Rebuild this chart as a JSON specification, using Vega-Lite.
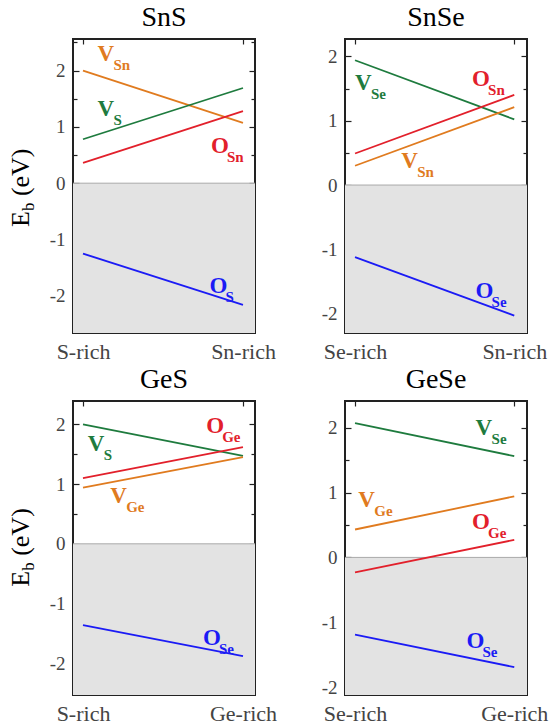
{
  "$schema": "https://vega.github.io/schema/vega-lite/v6.json",
  "autosize": {"type": "pad"},
  "padding": {"left": 6, "top": 3, "right": 0, "bottom": 0},
  "background": "white",
  "config": {
    "font": "Liberation Serif",
    "view": {"stroke": "#222", "strokeWidth": 2},
    "axis": {"domain": false, "grid": false, "tickColor": "#222", "tickWidth": 1.2, "labelFont": "Liberation Serif", "labelColor": "#444", "title": null},
    "title": {"font": "Liberation Serif", "fontSize": 28, "fontWeight": "normal", "color": "black", "offset": 6},
    "line": {"strokeWidth": 1.8}
  },
  "datasets": {
    "lines": [
      {"panel": "SnS", "defect": "V_Sn", "x": 0, "y": 2.0}, {"panel": "SnS", "defect": "V_Sn", "x": 1, "y": 1.07},
      {"panel": "SnS", "defect": "V_S", "x": 0, "y": 0.78}, {"panel": "SnS", "defect": "V_S", "x": 1, "y": 1.69},
      {"panel": "SnS", "defect": "O_Sn", "x": 0, "y": 0.36}, {"panel": "SnS", "defect": "O_Sn", "x": 1, "y": 1.28},
      {"panel": "SnS", "defect": "O_S", "x": 0, "y": -1.25}, {"panel": "SnS", "defect": "O_S", "x": 1, "y": -2.16},
      {"panel": "SnSe", "defect": "V_Se", "x": 0, "y": 1.94}, {"panel": "SnSe", "defect": "V_Se", "x": 1, "y": 1.02},
      {"panel": "SnSe", "defect": "O_Sn", "x": 0, "y": 0.49}, {"panel": "SnSe", "defect": "O_Sn", "x": 1, "y": 1.4},
      {"panel": "SnSe", "defect": "V_Sn", "x": 0, "y": 0.3}, {"panel": "SnSe", "defect": "V_Sn", "x": 1, "y": 1.21},
      {"panel": "SnSe", "defect": "O_Se", "x": 0, "y": -1.12}, {"panel": "SnSe", "defect": "O_Se", "x": 1, "y": -2.03},
      {"panel": "GeS", "defect": "V_S", "x": 0, "y": 2.0}, {"panel": "GeS", "defect": "V_S", "x": 1, "y": 1.47},
      {"panel": "GeS", "defect": "O_Ge", "x": 0, "y": 1.1}, {"panel": "GeS", "defect": "O_Ge", "x": 1, "y": 1.62},
      {"panel": "GeS", "defect": "V_Ge", "x": 0, "y": 0.94}, {"panel": "GeS", "defect": "V_Ge", "x": 1, "y": 1.45},
      {"panel": "GeS", "defect": "O_Se", "x": 0, "y": -1.36}, {"panel": "GeS", "defect": "O_Se", "x": 1, "y": -1.88},
      {"panel": "GeSe", "defect": "V_Se", "x": 0, "y": 2.07}, {"panel": "GeSe", "defect": "V_Se", "x": 1, "y": 1.56},
      {"panel": "GeSe", "defect": "V_Ge", "x": 0, "y": 0.43}, {"panel": "GeSe", "defect": "V_Ge", "x": 1, "y": 0.94},
      {"panel": "GeSe", "defect": "O_Ge", "x": 0, "y": -0.23}, {"panel": "GeSe", "defect": "O_Ge", "x": 1, "y": 0.27},
      {"panel": "GeSe", "defect": "O_Se", "x": 0, "y": -1.19}, {"panel": "GeSe", "defect": "O_Se", "x": 1, "y": -1.69}
    ],
    "labels": [
      {"panel": "SnS", "defect": "V_Sn", "main": "V", "sub": "Sn", "lx": 0.09, "ly": 2.17},
      {"panel": "SnS", "defect": "V_S", "main": "V", "sub": "S", "lx": 0.09, "ly": 1.19},
      {"panel": "SnS", "defect": "O_Sn", "main": "O", "sub": "Sn", "lx": 0.8, "ly": 0.54},
      {"panel": "SnS", "defect": "O_S", "main": "O", "sub": "S", "lx": 0.79, "ly": -1.95},
      {"panel": "SnSe", "defect": "V_Se", "main": "V", "sub": "Se", "lx": 0.0, "ly": 1.47},
      {"panel": "SnSe", "defect": "O_Sn", "main": "O", "sub": "Sn", "lx": 0.735, "ly": 1.54},
      {"panel": "SnSe", "defect": "V_Sn", "main": "V", "sub": "Sn", "lx": 0.29, "ly": 0.27},
      {"panel": "SnSe", "defect": "O_Se", "main": "O", "sub": "Se", "lx": 0.757, "ly": -1.75},
      {"panel": "GeS", "defect": "O_Ge", "main": "O", "sub": "Ge", "lx": 0.77, "ly": 1.86},
      {"panel": "GeS", "defect": "V_S", "main": "V", "sub": "S", "lx": 0.03, "ly": 1.56},
      {"panel": "GeS", "defect": "V_Ge", "main": "V", "sub": "Ge", "lx": 0.17, "ly": 0.69},
      {"panel": "GeS", "defect": "O_Se", "main": "O", "sub": "Se", "lx": 0.75, "ly": -1.69},
      {"panel": "GeSe", "defect": "V_Se", "main": "V", "sub": "Se", "lx": 0.757, "ly": 1.88},
      {"panel": "GeSe", "defect": "V_Ge", "main": "V", "sub": "Ge", "lx": 0.02, "ly": 0.77},
      {"panel": "GeSe", "defect": "O_Ge", "main": "O", "sub": "Ge", "lx": 0.735, "ly": 0.44},
      {"panel": "GeSe", "defect": "O_Se", "main": "O", "sub": "Se", "lx": 0.7, "ly": -1.39}
    ]
  },
  "columns": 2,
  "spacing": {"row": 68, "column": 90},
  "bounds": "flush",
  "concat": [
        {
          "width": 182, "height": 294, "title": {"text": "SnS", "font": "Liberation Serif", "fontSize": 28, "fontWeight": "normal", "color": "black", "offset": 6},
          "layer": [
            {"data": {"values": [{}]}, "mark": {"type": "rect", "color": "#e3e3e3"},
             "encoding": {
               "x": {"datum": -0.0625, "type": "quantitative", "scale": {"domain": [-0.0625, 1.075], "nice": false, "zero": false}, "axis": {"orient": "top", "values": [0, 1], "labels": false, "tickSize": -5}},
               "x2": {"datum": 1.075},
               "y": {"datum": -2.66, "type": "quantitative", "scale": {"domain": [-2.66, 2.56], "nice": false, "zero": false}, "axis": {"orient": "right", "values": [-2.5, -2, -1.5, -1, -0.5, 0, 0.5, 1, 1.5, 2, 2.5], "labels": false, "tickSize": {"condition": {"test": "datum.value % 1 === 0", "value": -6}, "value": -4}}},
               "y2": {"datum": 0}}},
            {"data": {"values": [{}]}, "mark": {"type": "rule", "color": "#aaaaaa", "strokeWidth": 1}, "encoding": {"y": {"datum": 0, "type": "quantitative", "axis": null}}},
            {"data": {"name": "lines"}, "transform": [{"filter": "datum.panel === 'SnS'"}], "mark": {"type": "line", "strokeWidth": 1.8},
             "encoding": {
               "x": {"field": "x", "type": "quantitative", "axis": {"orient": "bottom", "values": [0, 1], "labelExpr": "datum.value === 0 ? 'S-rich' : 'Sn-rich'", "labelFont": "Liberation Serif", "labelFontSize": 22, "labelPadding": 13, "tickSize": -5}},
               "y": {"field": "y", "type": "quantitative", "axis": {"orient": "left", "values": [-2.5, -2, -1.5, -1, -0.5, 0, 0.5, 1, 1.5, 2, 2.5], "labelExpr": "datum.value % 1 === 0 ? '' + datum.value : ''", "labelFont": "Liberation Serif", "labelFontSize": 19, "labelPadding": 14, "tickSize": {"condition": {"test": "datum.value % 1 === 0", "value": -6}, "value": -4}}},
               "color": {"field": "defect", "type": "nominal", "legend": null, "scale": {"domain": ["V_S", "V_Se", "V_Sn", "V_Ge", "O_Sn", "O_Ge", "O_S", "O_Se"], "range": ["#1e7b3e", "#1e7b3e", "#e07b1f", "#e07b1f", "#e2202b", "#e2202b", "#1b1bf5", "#1b1bf5"]}}}},
            {"data": {"name": "labels"}, "transform": [{"filter": "datum.panel === 'SnS'"}], "mark": {"type": "text", "align": "left", "baseline": "alphabetic", "font": "Liberation Serif", "fontWeight": "bold", "fontSize": 23},
             "encoding": {"x": {"field": "lx", "type": "quantitative", "axis": null}, "y": {"field": "ly", "type": "quantitative", "axis": null}, "text": {"field": "main"}, "color": {"field": "defect", "type": "nominal", "legend": null}}},
            {"data": {"name": "labels"}, "transform": [{"filter": "datum.panel === 'SnS'"}], "mark": {"type": "text", "align": "left", "baseline": "alphabetic", "font": "Liberation Serif", "fontWeight": "bold", "fontSize": 15, "dx": 16, "dy": 9},
             "encoding": {"x": {"field": "lx", "type": "quantitative", "axis": null}, "y": {"field": "ly", "type": "quantitative", "axis": null}, "text": {"field": "sub"}, "color": {"field": "defect", "type": "nominal", "legend": null}}},
            {"data": {"values": [{"t": "E"}]}, "mark": {"type": "text", "angle": 270, "align": "left", "baseline": "alphabetic", "font": "Liberation Serif", "fontSize": 26, "color": "black"},
             "encoding": {"x": {"datum": -0.34, "type": "quantitative", "axis": null}, "y": {"datum": -0.78, "type": "quantitative", "axis": null}, "text": {"field": "t"}}},
            {"data": {"values": [{"t": "b"}]}, "mark": {"type": "text", "angle": 270, "align": "left", "baseline": "alphabetic", "font": "Liberation Serif", "fontSize": 17, "color": "black", "dx": 16, "dy": 5},
             "encoding": {"x": {"datum": -0.34, "type": "quantitative", "axis": null}, "y": {"datum": -0.78, "type": "quantitative", "axis": null}, "text": {"field": "t"}}},
            {"data": {"values": [{"t": "(eV)"}]}, "mark": {"type": "text", "angle": 270, "align": "left", "baseline": "alphabetic", "font": "Liberation Serif", "fontSize": 26, "color": "black", "dx": 31},
             "encoding": {"x": {"datum": -0.34, "type": "quantitative", "axis": null}, "y": {"datum": -0.78, "type": "quantitative", "axis": null}, "text": {"field": "t"}}}
          ],
          "resolve": {"axis": {"x": "independent", "y": "independent"}}
        },
        {
          "width": 182, "height": 294, "title": {"text": "SnSe", "font": "Liberation Serif", "fontSize": 28, "fontWeight": "normal", "color": "black", "offset": 6},
          "layer": [
            {"data": {"values": [{}]}, "mark": {"type": "rect", "color": "#e3e3e3"},
             "encoding": {
               "x": {"datum": -0.063, "type": "quantitative", "scale": {"domain": [-0.063, 1.08], "nice": false, "zero": false}, "axis": {"orient": "top", "values": [0, 1], "labels": false, "tickSize": -5}},
               "x2": {"datum": 1.08},
               "y": {"datum": -2.3, "type": "quantitative", "scale": {"domain": [-2.3, 2.27], "nice": false, "zero": false}, "axis": {"orient": "right", "values": [-2, -1.5, -1, -0.5, 0, 0.5, 1, 1.5, 2], "labels": false, "tickSize": {"condition": {"test": "datum.value % 1 === 0", "value": -6}, "value": -4}}},
               "y2": {"datum": 0}}},
            {"data": {"values": [{}]}, "mark": {"type": "rule", "color": "#aaaaaa", "strokeWidth": 1}, "encoding": {"y": {"datum": 0, "type": "quantitative", "axis": null}}},
            {"data": {"name": "lines"}, "transform": [{"filter": "datum.panel === 'SnSe'"}], "mark": {"type": "line", "strokeWidth": 1.8},
             "encoding": {
               "x": {"field": "x", "type": "quantitative", "axis": {"orient": "bottom", "values": [0, 1], "labelExpr": "datum.value === 0 ? 'Se-rich' : 'Sn-rich'", "labelFont": "Liberation Serif", "labelFontSize": 22, "labelPadding": 13, "tickSize": -5}},
               "y": {"field": "y", "type": "quantitative", "axis": {"orient": "left", "values": [-2, -1.5, -1, -0.5, 0, 0.5, 1, 1.5, 2], "labelExpr": "datum.value % 1 === 0 ? '' + datum.value : ''", "labelFont": "Liberation Serif", "labelFontSize": 19, "labelPadding": 14, "tickSize": {"condition": {"test": "datum.value % 1 === 0", "value": -6}, "value": -4}}},
               "color": {"field": "defect", "type": "nominal", "legend": null}}},
            {"data": {"name": "labels"}, "transform": [{"filter": "datum.panel === 'SnSe'"}], "mark": {"type": "text", "align": "left", "baseline": "alphabetic", "font": "Liberation Serif", "fontWeight": "bold", "fontSize": 23},
             "encoding": {"x": {"field": "lx", "type": "quantitative", "axis": null}, "y": {"field": "ly", "type": "quantitative", "axis": null}, "text": {"field": "main"}, "color": {"field": "defect", "type": "nominal", "legend": null}}},
            {"data": {"name": "labels"}, "transform": [{"filter": "datum.panel === 'SnSe'"}], "mark": {"type": "text", "align": "left", "baseline": "alphabetic", "font": "Liberation Serif", "fontWeight": "bold", "fontSize": 15, "dx": 16, "dy": 9},
             "encoding": {"x": {"field": "lx", "type": "quantitative", "axis": null}, "y": {"field": "ly", "type": "quantitative", "axis": null}, "text": {"field": "sub"}, "color": {"field": "defect", "type": "nominal", "legend": null}}}
          ],
          "resolve": {"axis": {"x": "independent", "y": "independent"}}
        },
        {
          "width": 182, "height": 294, "title": {"text": "GeS", "font": "Liberation Serif", "fontSize": 28, "fontWeight": "normal", "color": "black", "offset": 6},
          "layer": [
            {"data": {"values": [{}]}, "mark": {"type": "rect", "color": "#e3e3e3"},
             "encoding": {
               "x": {"datum": -0.0625, "type": "quantitative", "scale": {"domain": [-0.0625, 1.075], "nice": false, "zero": false}, "axis": {"orient": "top", "values": [0, 1], "labels": false, "tickSize": -5}},
               "x2": {"datum": 1.075},
               "y": {"datum": -2.53, "type": "quantitative", "scale": {"domain": [-2.53, 2.39], "nice": false, "zero": false}, "axis": {"orient": "right", "values": [-2.5, -2, -1.5, -1, -0.5, 0, 0.5, 1, 1.5, 2], "labels": false, "tickSize": {"condition": {"test": "datum.value % 1 === 0", "value": -6}, "value": -4}}},
               "y2": {"datum": 0}}},
            {"data": {"values": [{}]}, "mark": {"type": "rule", "color": "#aaaaaa", "strokeWidth": 1}, "encoding": {"y": {"datum": 0, "type": "quantitative", "axis": null}}},
            {"data": {"name": "lines"}, "transform": [{"filter": "datum.panel === 'GeS'"}], "mark": {"type": "line", "strokeWidth": 1.8},
             "encoding": {
               "x": {"field": "x", "type": "quantitative", "axis": {"orient": "bottom", "values": [0, 1], "labelExpr": "datum.value === 0 ? 'S-rich' : 'Ge-rich'", "labelFont": "Liberation Serif", "labelFontSize": 22, "labelPadding": 13, "tickSize": -5}},
               "y": {"field": "y", "type": "quantitative", "axis": {"orient": "left", "values": [-2.5, -2, -1.5, -1, -0.5, 0, 0.5, 1, 1.5, 2], "labelExpr": "datum.value % 1 === 0 ? '' + datum.value : ''", "labelFont": "Liberation Serif", "labelFontSize": 19, "labelPadding": 14, "tickSize": {"condition": {"test": "datum.value % 1 === 0", "value": -6}, "value": -4}}},
               "color": {"field": "defect", "type": "nominal", "legend": null}}},
            {"data": {"name": "labels"}, "transform": [{"filter": "datum.panel === 'GeS'"}], "mark": {"type": "text", "align": "left", "baseline": "alphabetic", "font": "Liberation Serif", "fontWeight": "bold", "fontSize": 23},
             "encoding": {"x": {"field": "lx", "type": "quantitative", "axis": null}, "y": {"field": "ly", "type": "quantitative", "axis": null}, "text": {"field": "main"}, "color": {"field": "defect", "type": "nominal", "legend": null}}},
            {"data": {"name": "labels"}, "transform": [{"filter": "datum.panel === 'GeS'"}], "mark": {"type": "text", "align": "left", "baseline": "alphabetic", "font": "Liberation Serif", "fontWeight": "bold", "fontSize": 15, "dx": 16, "dy": 9},
             "encoding": {"x": {"field": "lx", "type": "quantitative", "axis": null}, "y": {"field": "ly", "type": "quantitative", "axis": null}, "text": {"field": "sub"}, "color": {"field": "defect", "type": "nominal", "legend": null}}},
            {"data": {"values": [{"t": "E"}]}, "mark": {"type": "text", "angle": 270, "align": "left", "baseline": "alphabetic", "font": "Liberation Serif", "fontSize": 26, "color": "black"},
             "encoding": {"x": {"datum": -0.34, "type": "quantitative", "axis": null}, "y": {"datum": -0.72, "type": "quantitative", "axis": null}, "text": {"field": "t"}}},
            {"data": {"values": [{"t": "b"}]}, "mark": {"type": "text", "angle": 270, "align": "left", "baseline": "alphabetic", "font": "Liberation Serif", "fontSize": 17, "color": "black", "dx": 16, "dy": 5},
             "encoding": {"x": {"datum": -0.34, "type": "quantitative", "axis": null}, "y": {"datum": -0.72, "type": "quantitative", "axis": null}, "text": {"field": "t"}}},
            {"data": {"values": [{"t": "(eV)"}]}, "mark": {"type": "text", "angle": 270, "align": "left", "baseline": "alphabetic", "font": "Liberation Serif", "fontSize": 26, "color": "black", "dx": 31},
             "encoding": {"x": {"datum": -0.34, "type": "quantitative", "axis": null}, "y": {"datum": -0.72, "type": "quantitative", "axis": null}, "text": {"field": "t"}}}
          ],
          "resolve": {"axis": {"x": "independent", "y": "independent"}}
        },
        {
          "width": 182, "height": 294, "title": {"text": "GeSe", "font": "Liberation Serif", "fontSize": 28, "fontWeight": "normal", "color": "black", "offset": 6},
          "layer": [
            {"data": {"values": [{}]}, "mark": {"type": "rect", "color": "#e3e3e3"},
             "encoding": {
               "x": {"datum": -0.063, "type": "quantitative", "scale": {"domain": [-0.063, 1.08], "nice": false, "zero": false}, "axis": {"orient": "top", "values": [0, 1], "labels": false, "tickSize": -5}},
               "x2": {"datum": 1.08},
               "y": {"datum": -2.12, "type": "quantitative", "scale": {"domain": [-2.12, 2.41], "nice": false, "zero": false}, "axis": {"orient": "right", "values": [-2, -1.5, -1, -0.5, 0, 0.5, 1, 1.5, 2], "labels": false, "tickSize": {"condition": {"test": "datum.value % 1 === 0", "value": -6}, "value": -4}}},
               "y2": {"datum": 0}}},
            {"data": {"values": [{}]}, "mark": {"type": "rule", "color": "#aaaaaa", "strokeWidth": 1}, "encoding": {"y": {"datum": 0, "type": "quantitative", "axis": null}}},
            {"data": {"name": "lines"}, "transform": [{"filter": "datum.panel === 'GeSe'"}], "mark": {"type": "line", "strokeWidth": 1.8},
             "encoding": {
               "x": {"field": "x", "type": "quantitative", "axis": {"orient": "bottom", "values": [0, 1], "labelExpr": "datum.value === 0 ? 'Se-rich' : 'Ge-rich'", "labelFont": "Liberation Serif", "labelFontSize": 22, "labelPadding": 13, "tickSize": -5}},
               "y": {"field": "y", "type": "quantitative", "axis": {"orient": "left", "values": [-2, -1.5, -1, -0.5, 0, 0.5, 1, 1.5, 2], "labelExpr": "datum.value % 1 === 0 ? '' + datum.value : ''", "labelFont": "Liberation Serif", "labelFontSize": 19, "labelPadding": 14, "tickSize": {"condition": {"test": "datum.value % 1 === 0", "value": -6}, "value": -4}}},
               "color": {"field": "defect", "type": "nominal", "legend": null}}},
            {"data": {"name": "labels"}, "transform": [{"filter": "datum.panel === 'GeSe'"}], "mark": {"type": "text", "align": "left", "baseline": "alphabetic", "font": "Liberation Serif", "fontWeight": "bold", "fontSize": 23},
             "encoding": {"x": {"field": "lx", "type": "quantitative", "axis": null}, "y": {"field": "ly", "type": "quantitative", "axis": null}, "text": {"field": "main"}, "color": {"field": "defect", "type": "nominal", "legend": null}}},
            {"data": {"name": "labels"}, "transform": [{"filter": "datum.panel === 'GeSe'"}], "mark": {"type": "text", "align": "left", "baseline": "alphabetic", "font": "Liberation Serif", "fontWeight": "bold", "fontSize": 15, "dx": 16, "dy": 9},
             "encoding": {"x": {"field": "lx", "type": "quantitative", "axis": null}, "y": {"field": "ly", "type": "quantitative", "axis": null}, "text": {"field": "sub"}, "color": {"field": "defect", "type": "nominal", "legend": null}}}
          ],
          "resolve": {"axis": {"x": "independent", "y": "independent"}}
        }
  ]
}
